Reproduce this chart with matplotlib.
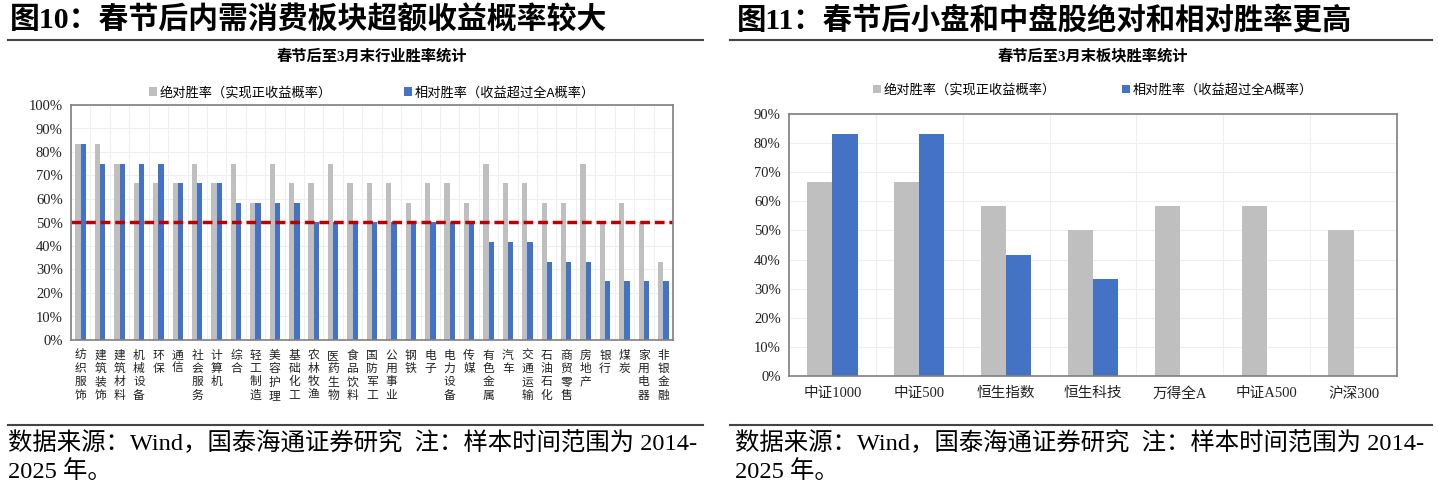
import numpy as np
import matplotlib.pyplot as plt
from matplotlib.ticker import FuncFormatter

plt.rcParams['font.family'] = ['Liberation Serif', 'Noto Sans CJK SC', 'DejaVu Sans']

# left chart data (industries)
industries = ['纺织服饰', '建筑装饰', '建筑材料', '机械设备', '环保', '通信', '社会服务', '计算机',
              '综合', '轻工制造', '美容护理', '基础化工', '农林牧渔', '医药生物', '食品饮料', '国防军工',
              '公用事业', '钢铁', '电子', '电力设备', '传媒', '有色金属', '汽车', '交通运输',
              '石油石化', '商贸零售', '房地产', '银行', '煤炭', '家用电器', '非银金融']
ind_abs = [83.3, 83.3, 75, 66.7, 66.7, 66.7, 75, 66.7, 75, 58.3, 75, 66.7, 66.7, 75, 66.7, 66.7,
           66.7, 58.3, 66.7, 66.7, 58.3, 75, 66.7, 66.7, 58.3, 58.3, 75, 50, 58.3, 50, 33.3]
ind_rel = [83.3, 75, 75, 75, 75, 66.7, 66.7, 66.7, 58.3, 58.3, 58.3, 58.3, 50, 50, 50, 50,
           50, 50, 50, 50, 50, 41.7, 41.7, 41.7, 33.3, 33.3, 33.3, 25, 25, 25, 25]

# right chart data (indices)
indices = ['中证1000', '中证500', '恒生指数', '恒生科技', '万得全A', '中证A500', '沪深300']
idx_abs = [66.7, 66.7, 58.3, 50, 58.3, 58.3, 50]
idx_rel = [83.3, 83.3, 41.7, 33.3, 0, 0, 0]

gray = '#BFBFBF'
blue = '#4472C4'
lab_abs = '绝对胜率（实现正收益概率）'
lab_rel = '相对胜率（收益超过全A概率）'

W, H = 1438, 494
fig = plt.figure(figsize=(W / 100, H / 100), dpi=100)


def px_axes(x0, y0, x1, y1):
    return fig.add_axes([x0 / W, 1 - y1 / H, (x1 - x0) / W, (y1 - y0) / H])


def style(ax, n, ymax):
    ax.set_xlim(-0.5, n - 0.5)
    ax.set_ylim(0, ymax)
    ax.set_yticks(np.arange(0, ymax + 0.001, 0.1))
    ax.yaxis.set_major_formatter(FuncFormatter(lambda v, p: f'{v * 100:.0f}%'))
    ax.set_xticks(np.arange(n), minor=False)
    ax.set_xticks(np.arange(n + 1) - 0.5, minor=True)
    ax.grid(axis='y', color='#EFEFEF', lw=0.8)
    ax.grid(axis='x', which='minor', color='#EFEFEF', lw=0.8)
    ax.set_axisbelow(True)
    ax.tick_params(which='both', length=0)
    ax.tick_params(axis='y', labelsize=10.5, pad=6, labelcolor='#222222')
    for s in ax.spines.values():
        s.set_color('#7F7F7F')
        s.set_linewidth(1.2)


# ---- left chart ----
ax1 = px_axes(71, 105, 673, 340)
x = np.arange(len(industries))
w = 0.27
b1 = ax1.bar(x - w / 2, np.array(ind_abs) / 100, w, color=gray, label=lab_abs)
b2 = ax1.bar(x + w / 2, np.array(ind_rel) / 100, w, color=blue, label=lab_rel)
style(ax1, len(industries), 1.0)
ax1.axhline(0.5, color='#C00000', lw=2.5, dashes=(2.8, 1.4))
ax1.set_xticklabels(['\n'.join(s) for s in industries], fontsize=8.5, linespacing=1.15,
                    va='top', color='#222222')
ax1.tick_params(axis='x', pad=7)
ax1.legend(handles=[b1, b2], loc='center', bbox_to_anchor=(0.5, 1.052), ncol=2, frameon=False,
           handlelength=0.6, handleheight=0.6, handletextpad=0.2,
           columnspacing=5.5, prop={'family': 'Noto Sans CJK SC', 'size': 9.5})

# ---- right chart ----
ax2 = px_axes(789, 114, 1397, 376)
x2 = np.arange(len(indices))
w2 = 0.29
c1 = ax2.bar(x2 - w2 / 2, np.array(idx_abs) / 100, w2, color=gray, label=lab_abs)
c2 = ax2.bar(x2 + w2 / 2, np.array(idx_rel) / 100, w2, color=blue, label=lab_rel)
style(ax2, len(indices), 0.9)
ax2.set_xticklabels(indices, fontsize=10.5, color='#222222')
ax2.tick_params(axis='x', pad=8)
ax2.legend(handles=[c1, c2], loc='center', bbox_to_anchor=(0.5, 1.09), ncol=2, frameon=False,
           handlelength=0.6, handleheight=0.6, handletextpad=0.2,
           columnspacing=5.0, prop={'family': 'Noto Sans CJK SC', 'size': 9.5})

# ---- titles, rules, footers ----
cjk = ['Liberation Serif', 'Noto Sans CJK SC']
fig.text(10 / W, 1 - 20 / H, '图10：春节后内需消费板块超额收益概率较大', fontsize=21.5,
         fontweight='bold', va='center', ha='left', family=cjk)
fig.text(737 / W, 1 - 20 / H, '图11：春节后小盘和中盘股绝对和相对胜率更高', fontsize=21.2,
         fontweight='bold', va='center', ha='left', family=cjk)
fig.text(372 / W, 1 - 56 / H, '春节后至3月末行业胜率统计', fontsize=11, fontweight='bold',
         va='center', ha='center', family=cjk)
fig.text(1093 / W, 1 - 56 / H, '春节后至3月末板块胜率统计', fontsize=11, fontweight='bold',
         va='center', ha='center', family=cjk)

for (a, b) in [(8, 703), (730, 1432)]:
    fig.add_artist(plt.Line2D([a / W, b / W], [1 - 40 / H, 1 - 40 / H], color='#444444', lw=1.5))
    fig.add_artist(plt.Line2D([a / W, b / W], [1 - 425 / H, 1 - 425 / H], color='#444444', lw=1.5))

foot1 = '数据来源：Wind，国泰海通证券研究  注：样本时间范围为 2014-'
foot2 = '2025 年。'
for x0 in (8, 735):
    fig.text(x0 / W, 1 - 443 / H, foot1, fontsize=17.6, va='center', ha='left', family=cjk)
    fig.text(x0 / W, 1 - 472 / H, foot2, fontsize=17.6, va='center', ha='left', family=cjk)

fig.savefig('out.png', dpi=100)
